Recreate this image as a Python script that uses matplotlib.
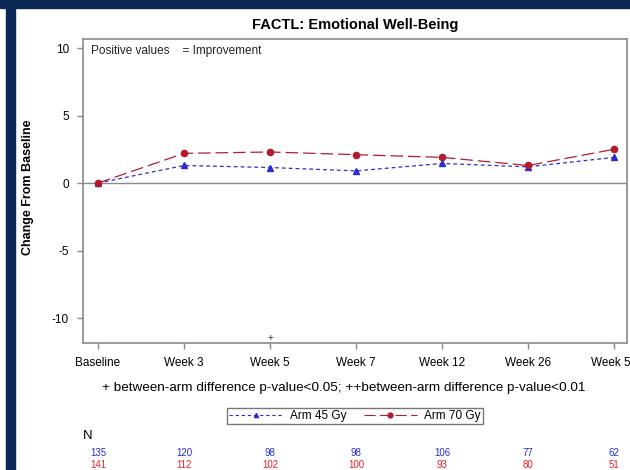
import numpy as np
from matplotlib import pyplot as plt
from matplotlib.patches import Rectangle
from matplotlib.lines import Line2D
import matplotlib.transforms as mtransforms

plt.rcParams['font.family'] = ['Liberation Sans', 'DejaVu Sans']

visits = ['Baseline', 'Week 3', 'Week 5', 'Week 7', 'Week 12', 'Week 26', 'Week 52']
arm45 = [0.0, 1.3, 1.15, 0.9, 1.45, 1.2, 1.9]
arm70 = [0.0, 2.2, 2.3, 2.1, 1.9, 1.3, 2.5]
n45 = [135, 120, 98, 98, 106, 77, 62]
n70 = [141, 112, 102, 100, 93, 80, 51]
sig = ['', '', '+', '', '', '', '']

BLUE = '#2a2ad8'
RED = '#b31b30'
NAVY = '#0c2856'
GREY = '#8a8a8a'

fig = plt.figure(figsize=(6.3, 4.7), dpi=100)

# navy frame of the slide
fig.patches.append(Rectangle((0, 1 - 8 / 470), 1, 8 / 470, transform=fig.transFigure,
                             color=NAVY, zorder=0))
fig.patches.append(Rectangle((6 / 630, 0), 9 / 630, 1, transform=fig.transFigure,
                             color=NAVY, zorder=0))

ax = fig.add_axes([83 / 630, 1 - 343 / 470, 544 / 630, 304 / 470])
x = np.arange(len(visits))

ax.axhline(0, color=GREY, lw=1, zorder=1)
ax.plot(x, arm45, color=BLUE, lw=0.9, dashes=(3, 2.5), marker='^', ms=4, zorder=3)
ax.plot(x, arm70, color=RED, lw=0.9, dashes=(10, 4), marker='o', ms=4.5, zorder=3)

for i, s in enumerate(sig):
    if s:
        ax.text(x[i], -11.45, s, ha='center', va='center', fontsize=7, color='#333333')

ax.set_xlim(-0.175, 6.15)
ax.set_ylim(-11.85, 10.67)
ax.set_xticks(x)
ax.set_xticklabels(visits, fontsize=8.5)
ax.set_yticks([-10, -5, 0, 5, 10])
ax.set_yticklabels(['-10', '-5', '0', '5', '10'], fontsize=8.5)
ax.tick_params(direction='out', length=4, color=GREY, width=1, pad=6)
for sp in ax.spines.values():
    sp.set_color(GREY)
    sp.set_linewidth(1.2)

ax.set_title('FACTL: Emotional Well-Being', fontsize=10.5, fontweight='bold', pad=7)
fig.text(28 / 630, 1 - 187 / 470, 'Change From Baseline', rotation=90, ha='center',
         va='center', fontsize=9, fontweight='bold')
ax.text(91 / 630, 1 - 51 / 470, 'Positive values    = Improvement', transform=fig.transFigure,
        fontsize=8.5, va='center', color='#222222')

fig.text(344 / 630, 1 - 388 / 470,
         '+ between-arm difference p-value<0.05; ++between-arm difference p-value<0.01',
         ha='center', va='center', fontsize=9.7)

handles = [Line2D([], [], color=BLUE, lw=0.8, dashes=(3, 2.5), marker='^', ms=3),
           Line2D([], [], color=RED, lw=0.8, dashes=(10, 4), marker='o', ms=3.5)]
leg = fig.legend(handles, ['Arm 45 Gy', 'Arm 70 Gy'], loc='center',
                 bbox_to_anchor=(355 / 630, 1 - 416 / 470), ncol=2, fontsize=8.5,
                 frameon=True, fancybox=False, handlelength=4.5, columnspacing=1.5,
                 borderpad=0.2, handletextpad=0.6)
leg.get_frame().set_edgecolor('#555555')
leg.get_frame().set_linewidth(1)

fig.text(88 / 630, 1 - 436 / 470, 'N', ha='center', va='center', fontsize=9.5)
trans = mtransforms.blended_transform_factory(ax.transData, fig.transFigure)
for i in range(len(visits)):
    ax.text(x[i], 1 - 453 / 470, str(n45[i]), transform=trans, ha='center', va='center',
            fontsize=7, color=BLUE, clip_on=False)
    ax.text(x[i], 1 - 465 / 470, str(n70[i]), transform=trans, ha='center', va='center',
            fontsize=7, color='#e8202a', clip_on=False)

fig.savefig('out.png', dpi=100)
